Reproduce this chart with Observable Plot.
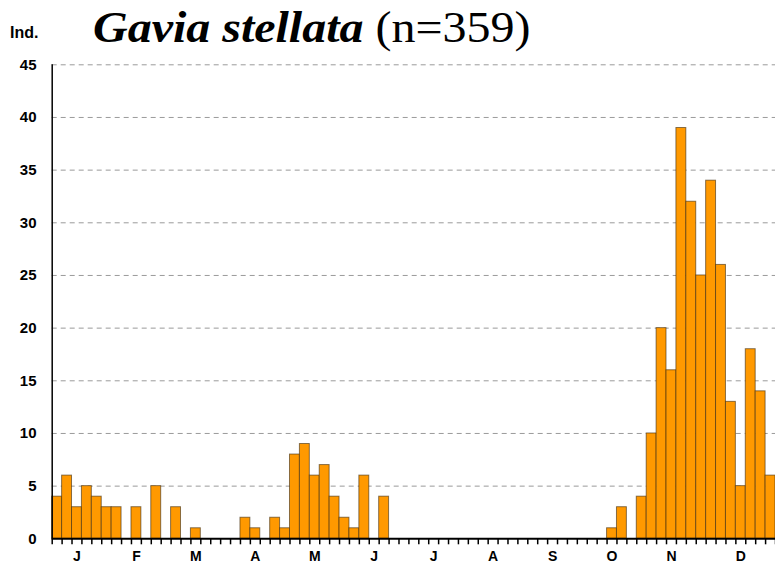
<!DOCTYPE html>
<html><head><meta charset="utf-8">
<script src="https://cdn.jsdelivr.net/npm/d3@7"></script>
<script src="https://cdn.jsdelivr.net/npm/@observablehq/plot@0.6"></script>
<style>
body{margin:0;background:#fff;}
#wrap{position:relative;width:775px;height:568px;overflow:hidden;}
#chart{position:absolute;left:0;top:0;}
#title{position:absolute;left:93px;top:5px;font-family:"Liberation Serif",serif;font-size:45px;line-height:1;white-space:nowrap;color:#000;transform:scaleX(1.066);transform-origin:0 0;}
#ind{position:absolute;left:10px;top:25px;font-family:"Liberation Sans",sans-serif;font-weight:bold;font-size:16px;line-height:1;color:#000;}
</style></head>
<body>
<div id="wrap"><div id="chart"></div><div id="ind">Ind.</div><div id="title"><b><i>Gavia stellata</i></b> (n=359)</div></div>
<script>
// counts per 5-day period (73 pentads, Jan -> Dec)
const pentadCounts = [
  4, 6, 3, 5, 4, 3,   3, 0, 3, 0, 5, 0,
  3, 0, 1, 0, 0, 0,   0, 2, 1, 0, 2, 1,
  8, 9, 6, 7, 4, 2,   1, 6, 0, 4, 0, 0,
  0, 0, 0, 0, 0, 0,   0, 0, 0, 0, 0, 0,
  0, 0, 0, 0, 0, 0,   0, 0, 1, 3, 0, 4,
  10, 20, 16, 39, 32, 25,   34, 26, 13, 5, 18, 14,
  6
];
const monthLabels = ["J","F","M","A","M","J","J","A","S","O","N","D"];
const monthLabelPentad = [2.5, 8.5, 14.5, 20.5, 26.5, 32.5, 38.5, 44.5, 50.5, 56.5, 62.5, 69.5];
const yTicks = [0, 5, 10, 15, 20, 25, 30, 35, 40, 45];

const bars = pentadCounts.map((v, i) => ({i, v})).filter(d => d.v > 0);
const edges = d3.range(pentadCounts.length + 1);

const chart = Plot.plot({
  width: 775,
  height: 568,
  marginLeft: 51.7,
  marginRight: 0,
  marginTop: 64.3,
  marginBottom: 29.7,
  style: {fontFamily: "Liberation Sans, Arial, sans-serif", background: "#fff", overflow: "visible"},
  x: {type: "linear", domain: [0, pentadCounts.length], axis: null},
  y: {domain: [0, 45], axis: null},
  marks: [
    Plot.ruleY(yTicks.filter(d => d > 0), {stroke: "#9a9a9a", strokeDasharray: "5,4", strokeWidth: 1}),
    Plot.rectY(bars, {x1: d => d.i, x2: d => d.i + 1, y: "v", fill: "#FF9900", stroke: "#3a2a10", strokeOpacity: 0.6, strokeWidth: 1, inset: 0}),
    Plot.ruleX([0], {stroke: "#000", strokeWidth: 1.5}),
    Plot.axisX(edges, {tickSize: 6, tickFormat: () => "", label: null, stroke: "#000", strokeWidth: 1.5}),
    Plot.ruleY([0], {stroke: "#000", strokeWidth: 2}),
    Plot.axisY(yTicks, {tickSize: 0, tickPadding: 15.7, label: null, fontSize: 15, fontWeight: "bold", fill: "#000"}),
    Plot.text(monthLabels, {x: (d, i) => monthLabelPentad[i], text: d => d, frameAnchor: "bottom", dy: 21.7, fontSize: 14, fontWeight: "bold", fill: "#000"})
  ]
});
document.getElementById("chart").appendChild(chart);
</script>
</body></html>
